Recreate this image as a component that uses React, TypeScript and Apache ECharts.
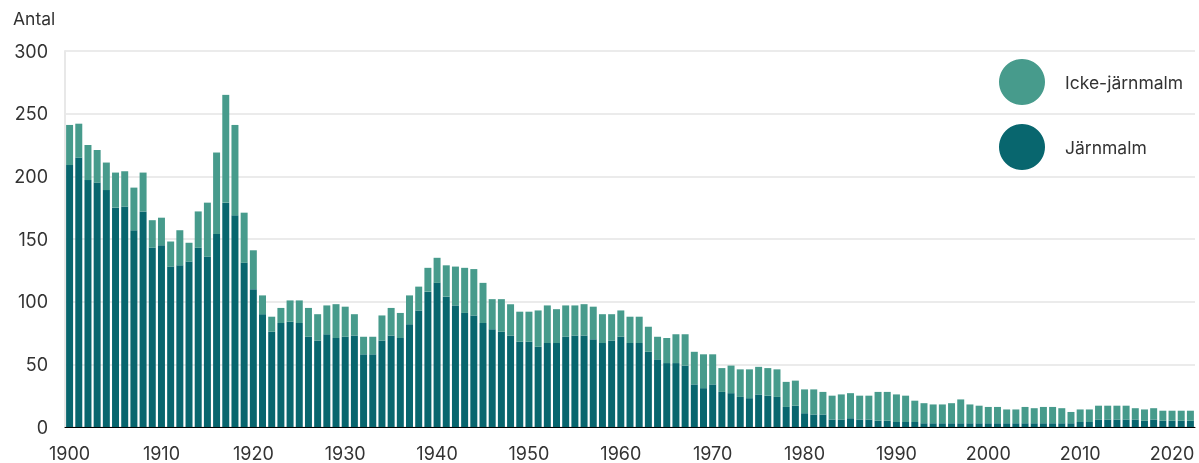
import React, { useEffect, useRef } from "react";
import * as echarts from "echarts";

const years: string[] = [];
for (let y = 1900; y <= 2022; y++) years.push(String(y));

const jarnmalm: number[] = [
  209, 215, 197, 195, 189, 175, 176, 157, 172, 143,
  145, 128, 129, 132, 143, 136, 154, 179, 169, 131,
  110, 90, 76, 83, 84, 83, 72, 69, 74, 71,
  72, 73, 58, 58, 69, 73, 71, 82, 93, 108,
  115, 104, 97, 91, 89, 83, 78, 76, 73, 68,
  68, 64, 67, 67, 72, 73, 73, 70, 67, 69,
  72, 67, 67, 60, 54, 51, 51, 49, 34, 31,
  34, 28, 27, 24, 23, 26, 25, 24, 16, 17,
  11, 10, 10, 6, 6, 7, 6, 6, 5, 5,
  4, 4, 4, 3, 3, 3, 3, 3, 3, 3,
  3, 3, 3, 3, 3, 3, 3, 3, 3, 3,
  4, 4, 6, 6, 6, 6, 6, 5, 6, 5,
  5, 5, 5,
];

const ickeJarnmalm: number[] = [
  32, 27, 28, 26, 22, 28, 28, 34, 31, 22,
  22, 20, 28, 15, 29, 43, 65, 86, 72, 40,
  31, 15, 12, 12, 17, 18, 23, 21, 23, 27,
  24, 17, 14, 14, 20, 22, 20, 23, 19, 19,
  20, 25, 31, 36, 37, 32, 24, 26, 25, 24,
  24, 29, 30, 27, 25, 24, 25, 26, 23, 21,
  21, 21, 21, 20, 18, 20, 23, 25, 26, 27,
  24, 19, 22, 22, 23, 22, 22, 22, 20, 20,
  19, 20, 18, 19, 20, 20, 19, 19, 23, 23,
  22, 21, 17, 16, 15, 15, 16, 19, 15, 14,
  13, 13, 11, 11, 13, 12, 13, 13, 12, 9,
  10, 10, 11, 11, 11, 11, 9, 9, 9, 8,
  8, 8, 8,
];

const yTicks = { min: 0, max: 300, interval: 50 };

const DARK = "#08666e";
const LIGHT = "#479b8c";
const FONT = "Inter, 'Noto Sans', sans-serif";
const TEXT = "#333333";

export default function App() {
  const ref = useRef<HTMLDivElement>(null);
  useEffect(() => {
    if (!ref.current) return;
    const chart = echarts.init(ref.current, undefined, { renderer: "svg" });
    chart.setOption({
      animation: false,
      textStyle: { fontFamily: FONT },
      grid: { left: 65, right: 4, top: 51, bottom: 36, containLabel: false },
      graphic: [
        {
          type: "text",
          left: 13,
          top: 9,
          style: { text: "Antal", fontSize: 17.5, fill: TEXT, fontFamily: FONT },
        },
      ],
      legend: {
        orient: "vertical",
        left: 999,
        top: 59,
        padding: 0,
        itemWidth: 46,
        itemHeight: 46,
        itemGap: 19,
        icon: "circle",
        data: ["Icke-järnmalm", "Järnmalm"],
        formatter: (name: string) => "{a|" + name + "}",
        textStyle: {
          fontSize: 17.5,
          color: TEXT,
          fontFamily: FONT,
          rich: {
            a: { fontSize: 17.5, color: TEXT, fontFamily: FONT, padding: [0, 0, 0, 15] },
          },
        },
      },
      xAxis: {
        type: "category",
        data: years,
        axisTick: { show: false },
        axisLine: { show: true, lineStyle: { color: "#000", width: 1 } },
        axisLabel: { interval: 9, fontSize: 18, color: TEXT, margin: 17, fontFamily: FONT },
      },
      yAxis: {
        type: "value",
        min: yTicks.min,
        max: yTicks.max,
        interval: yTicks.interval,
        axisLine: { show: true, lineStyle: { color: "#e8e8e8", width: 2 } },
        axisTick: { show: false },
        splitLine: { lineStyle: { color: "#ebebeb", width: 2 } },
        axisLabel: { fontSize: 18, color: TEXT, margin: 17, fontFamily: FONT },
      },
      series: [
        {
          name: "Järnmalm",
          type: "bar",
          stack: "total",
          data: jarnmalm,
          barCategoryGap: "24%",
          itemStyle: { color: DARK },
        },
        {
          name: "Icke-järnmalm",
          type: "bar",
          stack: "total",
          data: ickeJarnmalm,
          barCategoryGap: "24%",
          itemStyle: { color: LIGHT },
        },
      ],
    });
    return () => chart.dispose();
  }, []);
  return (
    <div
      ref={ref}
      style={{ position: "fixed", left: 0, top: 0, width: 1199, height: 463 }}
    />
  );
}
